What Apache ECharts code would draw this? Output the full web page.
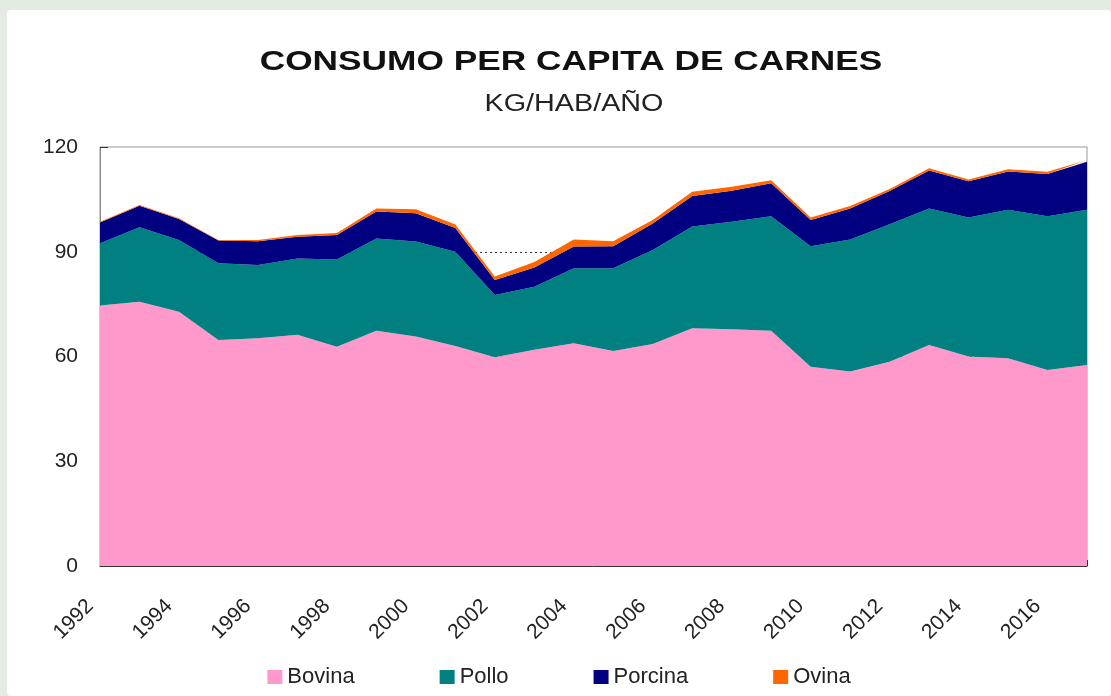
<!DOCTYPE html>
<html>
<head>
<meta charset="utf-8">
<script src="https://cdn.jsdelivr.net/npm/echarts@6/dist/echarts.min.js"></script>
<style>
  html, body { margin: 0; padding: 0; background: #e3ebe2; }
  #main { position: absolute; left: 7px; top: 10px; width: 1104px; height: 686px; background: #fff; border-radius: 4px; }
</style>
</head>
<body>
<div id="main"></div>
<script>
// años
var years = ['1992', '1993', '1994', '1995', '1996', '1997', '1998', '1999', '2000', '2001',
  '2002', '2003', '2004', '2005', '2006', '2007', '2008', '2009', '2010', '2011',
  '2012', '2013', '2014', '2015', '2016', '2017'];

// kg/hab/año por tipo de carne
var bovina = [74.6, 75.7, 72.8, 64.7, 65.2, 66.2, 62.8, 67.4, 65.7, 63.0,
  59.8, 61.9, 63.8, 61.6, 63.6, 68.1, 67.8, 67.4, 57.1, 55.7,
  58.5, 63.3, 60.0, 59.5, 56.1, 57.6];
var pollo = [17.8, 21.3, 20.6, 22.0, 21.0, 21.9, 25.0, 26.4, 27.2, 27.0,
  17.8, 18.1, 21.5, 23.7, 26.9, 29.1, 30.8, 32.8, 34.5, 37.8,
  39.4, 39.1, 39.8, 42.5, 44.1, 44.4];
var porcina = [6.0, 6.2, 6.0, 6.5, 6.8, 6.2, 7.0, 7.7, 8.1, 6.8,
  4.3, 5.5, 6.2, 6.3, 7.6, 8.8, 8.9, 9.4, 7.5, 8.9,
  9.5, 10.9, 10.4, 11.0, 12.1, 13.8];
var ovina = [0.2, 0.2, 0.2, 0.2, 0.4, 0.5, 0.6, 0.9, 1.2, 1.0,
  1.0, 1.6, 2.0, 1.4, 1.0, 1.2, 1.1, 0.9, 0.7, 0.7,
  0.6, 0.6, 0.5, 0.6, 0.6, 0.5];

var yTicks = [0, 30, 60, 90, 120];

var chart = echarts.init(document.getElementById('main'));

function area(name, data, color) {
  return {
    name: name,
    type: 'line',
    stack: 'total',
    data: data,
    showSymbol: false,
    lineStyle: { width: 0 },
    areaStyle: { color: color, opacity: 1 },
    itemStyle: { color: color },
    emphasis: { disabled: true }
  };
}

var option = {
  animation: false,
  textStyle: { fontFamily: 'Liberation Sans, Arial, sans-serif' },
  graphic: [
    {
      type: 'text', x: 564, y: 52, scaleX: 1.26,
      style: { text: 'CONSUMO PER CAPITA DE CARNES', fontSize: 28, fontWeight: 'bold',
        fontFamily: 'Liberation Sans', fill: '#111', textAlign: 'center', textVerticalAlign: 'middle' }
    },
    {
      type: 'text', x: 567, y: 95, scaleX: 1.25,
      style: { text: 'KG/HAB/AÑO', fontSize: 23,
        fontFamily: 'Liberation Sans', fill: '#222', textAlign: 'center', textVerticalAlign: 'middle' }
    }
  ],
  legend: {
    top: 651,
    left: 'center',
    icon: 'rect',
    itemWidth: 15,
    itemHeight: 14,
    itemGap: 85,
    textStyle: { fontSize: 22, color: '#222' },
    data: ['Bovina', 'Pollo', 'Porcina', 'Ovina']
  },
  grid: {
    left: 93, right: 24, top: 137, bottom: 130,
    show: true, borderColor: '#999', borderWidth: 1
  },
  xAxis: {
    type: 'category',
    data: years,
    boundaryGap: false,
    axisLine: { lineStyle: { color: '#333' } },
    axisTick: { inside: true, length: 6, interval: 0, lineStyle: { color: '#333' } },
    axisLabel: { interval: 1, rotate: 45, fontSize: 21, color: '#222', margin: 27, padding: [0, 14, 0, 0] }
  },
  yAxis: {
    type: 'value',
    min: yTicks[0],
    max: yTicks[yTicks.length - 1],
    interval: 30,
    axisLine: { show: true, lineStyle: { color: '#888' } },
    axisTick: { show: true, inside: true, length: 8, lineStyle: { color: '#333' } },
    axisLabel: { fontSize: 21, color: '#222', margin: 22 },
    splitLine: { show: true, showMinLine: false, showMaxLine: false,
      lineStyle: { type: [2, 3], color: '#333', width: 1 } }
  },
  series: [
    area('Bovina', bovina, '#ff99cc'),
    area('Pollo', pollo, '#008080'),
    area('Porcina', porcina, '#000080'),
    area('Ovina', ovina, '#ff6600')
  ]
};

chart.setOption(option);
</script>
</body>
</html>
